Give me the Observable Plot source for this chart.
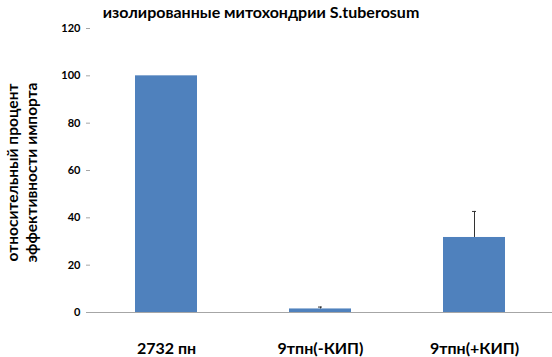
<!DOCTYPE html>
<html><head><meta charset="utf-8">
<script src="https://cdn.jsdelivr.net/npm/d3@7"></script>
<script src="https://cdn.jsdelivr.net/npm/@observablehq/plot@0.6"></script>
<style>body{margin:0;background:#fff;} svg{font-family:Lato,"Open Sans",sans-serif;}</style>
</head><body><div id="chart"></div>
<script>
const categories = ["2732 пн", "9тпн(-КИП)", "9тпн(+КИП)"];
const values = [100, 1.5, 31.7];
const errors = [0, 0.8, 11];
const yTicks = [0, 20, 40, 60, 80, 100, 120];
const title = "изолированные митохондрии S.tuberosum";
const yLabel = "относительный процент\nэффективности импорта";

const data = categories.map((c, i) => ({cat: c, v: values[i], e: errors[i], top: values[i] + errors[i]}));
const errData = data.filter(d => d.e > 0);

const chart = Plot.plot({
  width: 552, height: 357,
  marginLeft: 90, marginRight: 3, marginTop: 28, marginBottom: 45,
  style: {fontFamily: "Lato, 'Open Sans', sans-serif", background: "#fff"},
  x: {domain: categories, paddingInner: 0.6, paddingOuter: 0.29, axis: null},
  y: {domain: [0, 120], axis: null},
  marks: [
    Plot.barY(data, {x: "cat", y: "v", fill: "#4f81bd"}),
    Plot.ruleX(errData, {x: "cat", y1: "v", y2: "top", stroke: "#333", strokeWidth: 1}),
    Plot.tickY(errData, {x: "cat", y: "top", stroke: "#333", strokeWidth: 1, inset: 29}),
    Plot.ruleY([0], {stroke: "#a6a6a6", strokeWidth: 1, insetRight: -3}),
    Plot.ruleX([0], {frameAnchor: "left", y1: 0, y2: 120, stroke: "#a6a6a6", strokeWidth: 1}),
    Plot.axisY({ticks: yTicks, tickSize: 4, stroke: "#a6a6a6", fontWeight: "bold", fontSize: 11, fill: "#000", label: null, tickPadding: 6}),
    Plot.axisX({tickSize: 0, fontWeight: "bold", fontSize: 16, fill: "#000", label: null, tickPadding: 30}),
    Plot.text([yLabel], {frameAnchor: "left", textAnchor: "middle", rotate: -90, dx: -69, dy: 2, fontSize: 15.5, fontWeight: "bold", lineHeight: 1.2, fill: "#000"}),
    Plot.text([title], {frameAnchor: "top", dy: -22, dx: -59, fontSize: 16, fontWeight: "bold", fill: "#000"})
  ]
});
document.getElementById("chart").appendChild(chart);
</script></body></html>
